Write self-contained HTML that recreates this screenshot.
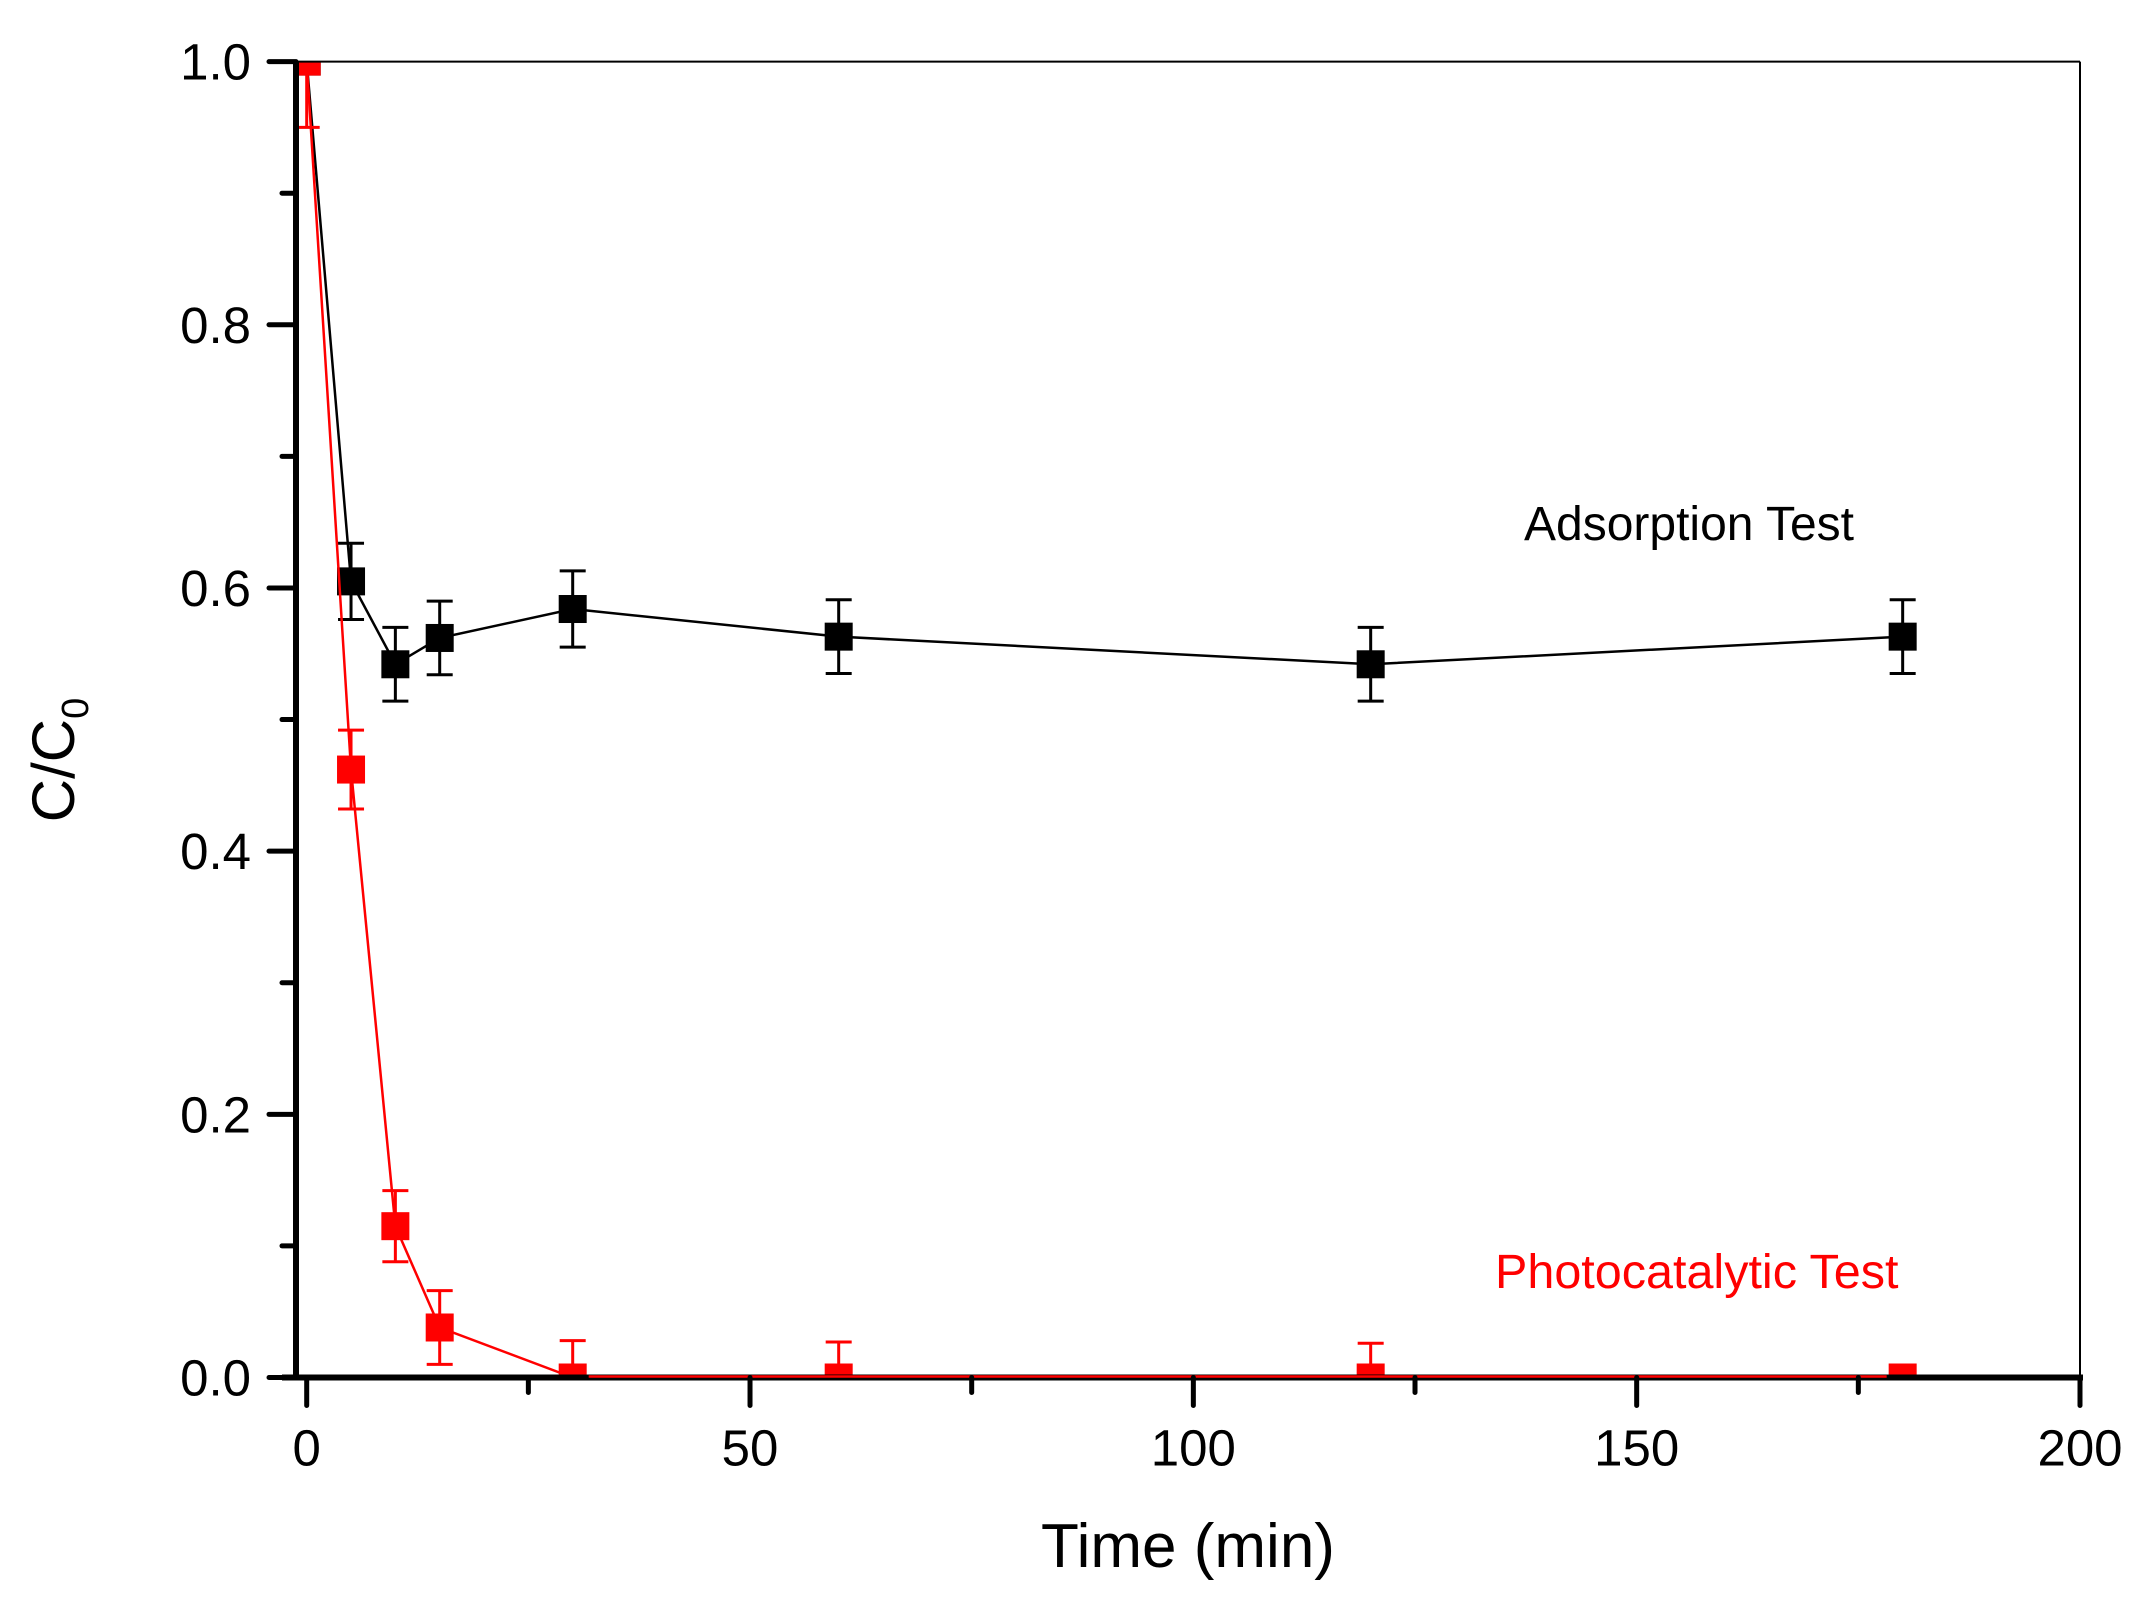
<!DOCTYPE html>
<html><head><meta charset="utf-8"><style>
html,body{margin:0;padding:0;background:#fff}
svg{display:block;font-family:"Liberation Sans",Arial,sans-serif}
</style></head><body>
<svg id="chart" width="2147" height="1601" viewBox="0 0 2147 1601" xmlns="http://www.w3.org/2000/svg">
<defs><clipPath id="pc"><rect x="296" y="61.6" width="1784" height="1316"/></clipPath></defs>
<rect x="0" y="0" width="2147" height="1601" fill="#fff"/>
<g id="series" clip-path="url(#pc)"></g>
<g id="plot"></g>
<text x="1188" y="1567" font-size="62" text-anchor="middle">Time (min)</text>
<text transform="translate(74,760) rotate(-90)" font-size="60" text-anchor="middle">C/C<tspan font-size="38" dy="14">0</tspan></text>
<text x="1524" y="540" font-size="48">Adsorption Test</text>
<text x="1495" y="1288" font-size="48.5" fill="#ff0000">Photocatalytic Test</text>
</svg>
<script>
const times = [0, 5, 10, 15, 30, 60, 120, 180];
const adsorption = [1.0, 0.605, 0.542, 0.562, 0.584, 0.563, 0.542, 0.563];
const adsorptionErr = [0, 0.029, 0.028, 0.028, 0.029, 0.028, 0.028, 0.028];
const photo = [1.0, 0.462, 0.115, 0.038, 0.0, 0.0, 0.0, 0.0];
const photoErr = [0.05, 0.03, 0.027, 0.028, 0.028, 0.027, 0.026, 0.003];
const xTicks = [0, 50, 100, 150, 200];
const xMinor = [25, 75, 125, 175];
const yTicks = [0.0, 0.2, 0.4, 0.6, 0.8, 1.0];
const yMinor = [0.1, 0.3, 0.5, 0.7, 0.9];

const NS = "http://www.w3.org/2000/svg";
const g = document.getElementById('plot');
const gs = document.getElementById('series');
const X0 = 306.7, X200 = 2080, Y0 = 1377.5, Y1 = 61.6;
const xs = v => X0 + (X200 - X0) * v / 200;
const ys = v => Y0 - (Y0 - Y1) * v;
const L = 296, R = 2080, T = 61.6, B = 1377.5;
function mk(tag, attrs, parent) {
  const e = document.createElementNS(NS, tag);
  for (const k in attrs) e.setAttribute(k, attrs[k]);
  (parent || g).appendChild(e);
  return e;
}
let e = mk('line', {x1: L, y1: T, x2: R, y2: T, stroke: '#000', 'stroke-width': 2});


e = mk('line', {x1: R, y1: T, x2: R, y2: B, stroke: '#000', 'stroke-width': 2});



function series(vals, errs, color, name, lw) {
  const pts = times.map((t, i) => xs(t) + ',' + ys(vals[i])).join(' ');
  let p = mk('polyline', {points: pts, fill: 'none', stroke: color, 'stroke-width': lw}, gs);
  
  
  times.forEach((t, i) => {
    const cx = xs(t), cy = ys(vals[i]);
    const hi = ys(vals[i] + errs[i]), lo = ys(vals[i] - errs[i]);
    if (errs[i] > 0) {
      let b = mk('path', {d: `M${cx},${hi}V${lo}M${cx-13},${hi}H${cx+13}M${cx-13},${lo}H${cx+13}`, stroke: color, 'stroke-width': 3, fill: 'none'}, gs);
      
      
    }
    let m = mk('rect', {x: cx - 14, y: cy - 14, width: 28, height: 28, fill: color}, gs);
    
    
  });
}
series(adsorption, adsorptionErr, '#000', 'adsorption', 2.5);
series(photo, photoErr, '#ff0000', 'photocatalytic', 2.5);

e = mk('line', {x1: L, y1: T, x2: L, y2: B + 3, stroke: '#000', 'stroke-width': 6});


e = mk('line', {x1: L - 14, y1: B, x2: R + 3, y2: B, stroke: '#000', 'stroke-width': 6});


e = mk('line', {x1: xs(30) + 16, y1: B - 1, x2: xs(180) - 16, y2: B - 1, stroke: '#ff0000', 'stroke-width': 2.5});



yTicks.forEach(v => {
  let t = mk('line', {x1: L - 27, y1: ys(v), x2: L, y2: ys(v), stroke: '#000', 'stroke-width': 5, 'stroke-linecap': 'round'});
  
  
  let tx = mk('text', {x: L - 45, y: ys(v) + 18, 'font-size': 51, 'text-anchor': 'end'});
  tx.textContent = v.toFixed(1);
  
  
});
yMinor.forEach(v => {
  let t = mk('line', {x1: L - 14, y1: ys(v), x2: L, y2: ys(v), stroke: '#000', 'stroke-width': 5, 'stroke-linecap': 'round'});
  
  
});
xTicks.forEach(v => {
  let t = mk('line', {x1: xs(v), y1: B, x2: xs(v), y2: B + 28, stroke: '#000', 'stroke-width': 5, 'stroke-linecap': 'round'});
  
  
  let tx = mk('text', {x: xs(v), y: B + 88, 'font-size': 51, 'text-anchor': 'middle'});
  tx.textContent = String(v);
  
  
});
xMinor.forEach(v => {
  let t = mk('line', {x1: xs(v), y1: B, x2: xs(v), y2: B + 15, stroke: '#000', 'stroke-width': 5, 'stroke-linecap': 'round'});
  
  
});
</script>
</body></html>
